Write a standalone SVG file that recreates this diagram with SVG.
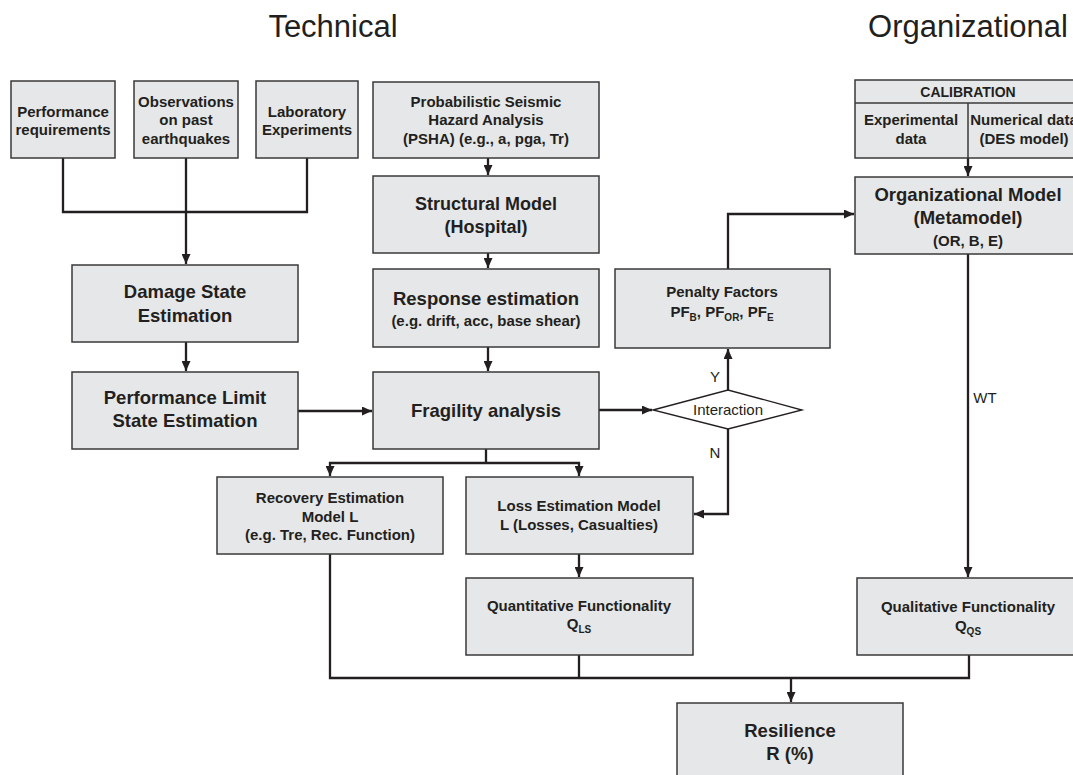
<svg xmlns="http://www.w3.org/2000/svg" width="1073" height="775" viewBox="0 0 1073 775">
<style>
  text{font-family:"Liberation Sans",Arial,Helvetica,sans-serif;fill:#231f20;text-anchor:middle}
  .box{fill:#e6e7e8;stroke:#3a3a3a;stroke-width:1.5}
  .s{font-size:15px;font-weight:bold}
  .b{font-size:18.5px;font-weight:bold}
  .t{font-size:31px}
  .l{font-size:15px}
  .c path{fill:none;stroke:#231f20;stroke-width:2.3}
  .c path.a{marker-end:url(#arr)}
  .sub{font-size:10px}
</style>
<defs>
  <marker id="arr" markerUnits="userSpaceOnUse" markerWidth="11" markerHeight="9" refX="10" refY="4.5" orient="auto">
    <path d="M0,0 L10,4.5 L0,9 z" fill="#231f20"/>
  </marker>
</defs>
<rect width="1073" height="775" fill="#ffffff"/>

<text class="t" x="333" y="37">Technical</text>
<text class="t" x="968" y="37">Organizational</text>

<g class="c" id="connectors">
  <path d="M63,158 V212 H307 V158"/>
  <path class="a" d="M186,158 V264"/>
  <path class="a" d="M186,342 V371"/>
  <path class="a" d="M298,411 H372"/>
  <path class="a" d="M488,158 V175"/>
  <path class="a" d="M488,253 V268"/>
  <path class="a" d="M488,347 V371"/>
  <path class="a" d="M599,410 H652"/>
  <path class="a" d="M728,390 V349"/>
  <path class="a" d="M728,269 V214 H854"/>
  <path class="a" d="M968,158 V176"/>
  <path class="a" d="M968,254 V577"/>
  <path class="a" d="M728,429 V514 H694"/>
  <path d="M486,449 V463"/>
  <path class="a" d="M486,463 H330 V476"/>
  <path class="a" d="M486,463 H579 V476"/>
  <path class="a" d="M579,554 V577"/>
  <path d="M330,554 V678 H969 V655"/>
  <path d="M579,655 V678"/>
  <path class="a" d="M791,678 V702"/>
</g>

<g id="perf-req">
  <rect class="box" x="11" y="81" width="104" height="77"/>
  <text class="s" x="63" y="117">Performance</text>
  <text class="s" x="63" y="135">requirements</text>
</g>
<g id="observations">
  <rect class="box" x="134" y="81" width="104" height="77"/>
  <text class="s" x="186" y="107">Observations</text>
  <text class="s" x="186" y="125">on past</text>
  <text class="s" x="186" y="144">earthquakes</text>
</g>
<g id="laboratory">
  <rect class="box" x="256" y="81" width="102" height="77"/>
  <text class="s" x="307" y="117">Laboratory</text>
  <text class="s" x="307" y="135">Experiments</text>
</g>
<g id="psha">
  <rect class="box" x="373" y="82" width="226" height="76"/>
  <text class="s" x="486" y="107">Probabilistic Seismic</text>
  <text class="s" x="486" y="125">Hazard Analysis</text>
  <text class="s" x="486" y="144">(PSHA) (e.g., a, pga, Tr)</text>
</g>
<g id="structural">
  <rect class="box" x="373" y="176" width="226" height="77"/>
  <text class="b" x="486" y="210" style="font-size:18px">Structural Model</text>
  <text class="b" x="486" y="233" style="font-size:18px">(Hospital)</text>
</g>
<g id="response">
  <rect class="box" x="373" y="269" width="226" height="78"/>
  <text class="b" x="486" y="305">Response estimation</text>
  <text class="s" x="486" y="326">(e.g. drift, acc, base shear)</text>
</g>
<g id="damage">
  <rect class="box" x="72" y="265" width="226" height="77"/>
  <text class="b" x="185" y="298">Damage State</text>
  <text class="b" x="185" y="322">Estimation</text>
</g>
<g id="perf-limit">
  <rect class="box" x="72" y="372" width="226" height="77"/>
  <text class="b" x="185" y="404">Performance Limit</text>
  <text class="b" x="185" y="427">State Estimation</text>
</g>
<g id="fragility">
  <rect class="box" x="373" y="372" width="226" height="77"/>
  <text class="b" x="486" y="417">Fragility analysis</text>
</g>
<g id="interaction">
  <polygon points="653,410 728,390 802,410 728,429" fill="#ffffff" stroke="#231f20" stroke-width="1.3"/>
  <text class="l" x="728" y="415">Interaction</text>
  <text class="l" x="715" y="382">Y</text>
  <text class="l" x="715" y="458">N</text>
</g>
<g id="penalty">
  <rect class="box" x="615" y="269" width="215" height="79"/>
  <text class="s" x="722" y="297">Penalty Factors</text>
  <text class="s" x="722" y="317">PF<tspan class="sub" dy="4">B</tspan><tspan dy="-4">, PF</tspan><tspan class="sub" dy="4">OR</tspan><tspan dy="-4">, PF</tspan><tspan class="sub" dy="4">E</tspan></text>
</g>
<g id="calibration">
  <rect class="box" x="855" y="80" width="226" height="78"/>
  <line x1="855" y1="103" x2="1081" y2="103" stroke="#3a3a3a" stroke-width="1.5"/>
  <line x1="968" y1="103" x2="968" y2="158" stroke="#3a3a3a" stroke-width="1.5"/>
  <text class="s" x="968" y="97" style="font-size:14px">CALIBRATION</text>
  <text class="s" x="911" y="125">Experimental</text>
  <text class="s" x="911" y="144">data</text>
  <text class="s" x="1024" y="125">Numerical data</text>
  <text class="s" x="1024" y="144">(DES model)</text>
</g>
<g id="org-model">
  <rect class="box" x="855" y="177" width="226" height="77"/>
  <text class="b" x="968" y="201">Organizational Model</text>
  <text class="b" x="968" y="224">(Metamodel)</text>
  <text class="s" x="968" y="246">(OR, B, E)</text>
</g>
<text class="l" x="985" y="403">WT</text>
<g id="recovery">
  <rect class="box" x="217" y="477" width="226" height="77"/>
  <text class="s" x="330" y="503">Recovery Estimation</text>
  <text class="s" x="330" y="522">Model L</text>
  <text class="s" x="330" y="540">(e.g. Tre, Rec. Function)</text>
</g>
<g id="loss">
  <rect class="box" x="466" y="477" width="227" height="77"/>
  <text class="s" x="579" y="511">Loss Estimation Model</text>
  <text class="s" x="579" y="530">L (Losses, Casualties)</text>
</g>
<g id="quantitative">
  <rect class="box" x="466" y="578" width="227" height="77"/>
  <text class="s" x="579" y="611">Quantitative Functionality</text>
  <text class="s" x="579" y="629">Q<tspan class="sub" dy="4">LS</tspan></text>
</g>
<g id="qualitative">
  <rect class="box" x="857" y="578" width="224" height="77"/>
  <text class="s" x="968" y="612">Qualitative Functionality</text>
  <text class="s" x="968" y="631">Q<tspan class="sub" dy="4">QS</tspan></text>
</g>
<g id="resilience">
  <rect class="box" x="677" y="703" width="226" height="80"/>
  <text class="b" x="790" y="737">Resilience</text>
  <text class="b" x="790" y="760">R (%)</text>
</g>
</svg>
